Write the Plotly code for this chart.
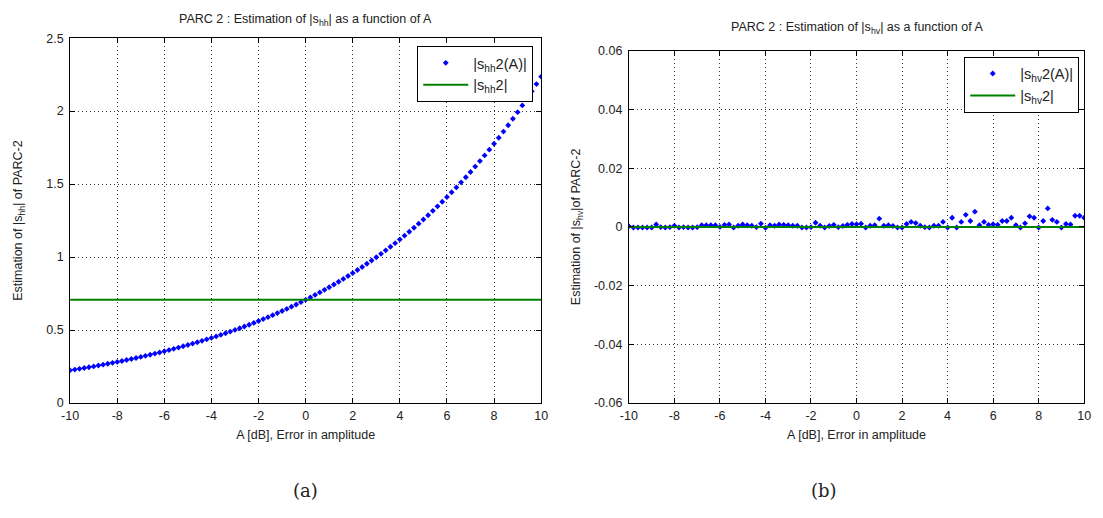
import plotly.graph_objects as go

# A values [dB], step 0.2 from -10 to 10
A = [round(-10 + 0.2 * i, 1) for i in range(101)]

shh_est = [0.2236, 0.2288, 0.2341, 0.2396, 0.2452, 0.2509, 0.2567, 0.2627, 0.2688, 0.2751,
           0.2815, 0.2881, 0.2948, 0.3016, 0.3087, 0.3159, 0.3232, 0.3307, 0.3384, 0.3463,
           0.3544, 0.3626, 0.3711, 0.3797, 0.3886, 0.3976, 0.4069, 0.4163, 0.4260, 0.4360,
           0.4461, 0.4565, 0.4671, 0.4780, 0.4892, 0.5006, 0.5122, 0.5242, 0.5364, 0.5489,
           0.5617, 0.5748, 0.5882, 0.6019, 0.6159, 0.6302, 0.6449, 0.6600, 0.6753, 0.6911,
           0.7071, 0.7236, 0.7405, 0.7577, 0.7754, 0.7934, 0.8119, 0.8308, 0.8502, 0.8700,
           0.8902, 0.9110, 0.9322, 0.9539, 0.9761, 0.9989, 1.0221, 1.0459, 1.0703, 1.0952,
           1.1207, 1.1468, 1.1736, 1.2009, 1.2289, 1.2575, 1.2868, 1.3167, 1.3474, 1.3788,
           1.4109, 1.4438, 1.4774, 1.5118, 1.5470, 1.5831, 1.6199, 1.6577, 1.6963, 1.7358,
           1.7762, 1.8176, 1.8599, 1.9032, 1.9476, 1.9929, 2.0393, 2.0868, 2.1355, 2.1852,
           2.2361]
shh_true = 0.7071

shv_est = [0.0002, -0.0002, -0.0002, -0.0002, -0.0002, -0.0002, 0.0008, -0.0001, -0.0002, -0.0001,
           0.0004, -0.0002, -0.0001, -0.0002, -0.0002, -0.0001, 0.0006, 0.0006, 0.0006, 0.0006,
           0.0000, 0.0007, 0.0008, -0.0002, 0.0004, 0.0008, 0.0006, 0.0004, -0.0001, 0.0011,
           -0.0003, 0.0006, 0.0004, 0.0008, 0.0007, 0.0006, 0.0004, 0.0004, -0.0002, -0.0002,
           -0.0001, 0.0014, 0.0004, -0.0002, 0.0003, 0.0007, -0.0001, 0.0003, 0.0007, 0.0010,
           0.0009, 0.0011, -0.0002, 0.0004, 0.0006, 0.0028, 0.0004, 0.0006, 0.0003, -0.0002,
           -0.0002, 0.0010, 0.0017, 0.0013, 0.0004, -0.0001, -0.0002, 0.0004, 0.0004, 0.0017,
           -0.0002, 0.0031, -0.0002, 0.0017, 0.0041, 0.0020, 0.0052, 0.0006, 0.0017, 0.0007,
           0.0009, 0.0007, 0.0020, 0.0020, 0.0031, 0.0006, -0.0002, 0.0012, 0.0036, 0.0031,
           -0.0002, 0.0020, 0.0063, 0.0024, 0.0017, -0.0002, 0.0010, 0.0008, 0.0038, 0.0038,
           0.0031]
shv_true = 0.0

x_ticks = [-10, -8, -6, -4, -2, 0, 2, 4, 6, 8, 10]
x_labels = ["-10", "-8", "-6", "-4", "-2", "0", "2", "4", "6", "8", "10"]
y1_ticks = [0, 0.5, 1, 1.5, 2, 2.5]
y1_labels = ["0", "0.5", "1", "1.5", "2", "2.5"]
y2_ticks = [-0.06, -0.04, -0.02, 0, 0.02, 0.04, 0.06]
y2_labels = ["-0.06", "-0.04", "-0.02", "0", "0.02", "0.04", "0.06"]

W, H = 1103, 518
FONT = "Liberation Sans, Arial, sans-serif"
BLUE = "#0000ff"
GREEN = "#008000"
TXT = "#222"

def px_x(p):
    return p / W

def px_y(p):
    return 1 - p / H

fig = go.Figure()

fig.add_trace(go.Scatter(x=A, y=shh_est, mode="markers", name="|s<sub>hh</sub>2(A)|",
                         marker=dict(symbol="diamond", size=4.5, color=BLUE),
                         xaxis="x", yaxis="y", legend="legend"))
fig.add_trace(go.Scatter(x=[A[0], A[-1]], y=[shh_true, shh_true], mode="lines", name="|s<sub>hh</sub>2|",
                         line=dict(color=GREEN, width=2),
                         xaxis="x", yaxis="y", legend="legend"))
fig.add_trace(go.Scatter(x=A, y=shv_est, mode="markers", name="|s<sub>hv</sub>2(A)|",
                         marker=dict(symbol="diamond", size=4.5, color=BLUE),
                         xaxis="x2", yaxis="y2", legend="legend2"))
fig.add_trace(go.Scatter(x=[A[0], A[-1]], y=[shv_true, shv_true], mode="lines", name="|s<sub>hv</sub>2|",
                         line=dict(color=GREEN, width=2),
                         xaxis="x2", yaxis="y2", legend="legend2"))

axis_common = dict(showline=True, linecolor="black", linewidth=1, mirror="allticks",
                   ticks="inside", ticklen=5, tickcolor="black",
                   showgrid=True, gridcolor="#333", griddash="1px,3px", gridwidth=1,
                   zeroline=False, tickfont=dict(family=FONT, size=12.5, color=TXT))

fig.update_layout(
    width=W, height=H,
    margin=dict(l=0, r=0, t=0, b=0),
    paper_bgcolor="white", plot_bgcolor="white",
    font=dict(family=FONT, size=12, color=TXT),
    xaxis=dict(domain=[px_x(62), px_x(540)], range=[-10, 10], tickvals=x_ticks, ticktext=x_labels,
               anchor="y", ticklabelstandoff=1,
               title=dict(text="A [dB], Error in amplitude", font=dict(size=12.5), standoff=8),
               **axis_common),
    yaxis=dict(domain=[px_y(407), px_y(32)], range=[0, 2.5], tickvals=y1_ticks, ticktext=y1_labels,
               anchor="x", ticklabelstandoff=3,
               title=dict(text="Estimation of |s<sub>hh</sub>| of PARC-2", font=dict(size=12.5), standoff=20),
               **axis_common),
    xaxis2=dict(domain=[px_x(629), px_x(1091)], range=[-10, 10], tickvals=x_ticks, ticktext=x_labels,
                anchor="y2", ticklabelstandoff=1,
                title=dict(text="A [dB], Error in amplitude", font=dict(size=12.5), standoff=8),
                **axis_common),
    yaxis2=dict(domain=[px_y(407), px_y(45)], range=[-0.06, 0.06], tickvals=y2_ticks, ticktext=y2_labels,
                anchor="x2", ticklabelstandoff=3,
                title=dict(text="Estimation of |s<sub>hv</sub>|of PARC-2", font=dict(size=12.5), standoff=10),
                **axis_common),
    legend=dict(x=px_x(532), y=px_y(40), xanchor="right", yanchor="top",
                bordercolor="black", borderwidth=1, bgcolor="white",
                font=dict(family=FONT, size=14.5, color=TXT), itemwidth=45, tracegroupgap=0),
    legend2=dict(x=px_x(1086), y=px_y(51), xanchor="right", yanchor="top",
                 bordercolor="black", borderwidth=1, bgcolor="white",
                 font=dict(family=FONT, size=14.5, color=TXT), itemwidth=45, tracegroupgap=0),
    showlegend=True,
    annotations=[
        dict(text="PARC 2 : Estimation of |s<sub>hh</sub>| as a function of A", x=px_x(301), y=px_y(13),
             xref="paper", yref="paper", showarrow=False, xanchor="center", yanchor="middle",
             font=dict(family=FONT, size=12.5, color=TXT)),
        dict(text="PARC 2 : Estimation of |s<sub>hv</sub>| as a function of A", x=px_x(860), y=px_y(22),
             xref="paper", yref="paper", showarrow=False, xanchor="center", yanchor="middle",
             font=dict(family=FONT, size=12.5, color=TXT)),
        dict(text="(a)", x=px_x(301), y=px_y(497), xref="paper", yref="paper", showarrow=False,
             xanchor="center", yanchor="middle",
             font=dict(family="DejaVu Serif, Liberation Serif, serif", size=18, color=TXT)),
        dict(text="(b)", x=px_x(827), y=px_y(497), xref="paper", yref="paper", showarrow=False,
             xanchor="center", yanchor="middle",
             font=dict(family="DejaVu Serif, Liberation Serif, serif", size=18, color=TXT)),
    ],
)

fig.write_html("out.html")
